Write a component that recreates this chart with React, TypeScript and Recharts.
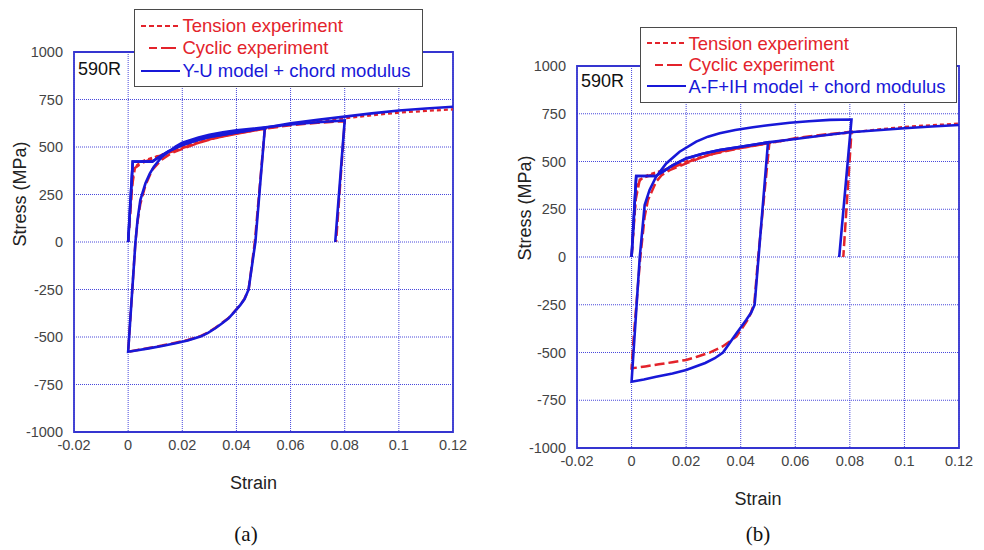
import { CartesianGrid, Legend, Line, LineChart, ReferenceArea, XAxis, YAxis } from "recharts"

type Pt = [number, number] // [strain, stress MPa]

const strainTicks = [-0.02, 0, 0.02, 0.04, 0.06, 0.08, 0.1, 0.12]
const stressTicks = [-1000, -750, -500, -250, 0, 250, 500, 750, 1000]

// red dotted, same test in both panels
const tensionExperiment: Pt[] = [
  [0, 0], [0.0012, 250], [0.002, 379], [0.0033, 405], [0.005, 423], [0.0075, 437], [0.0103, 449], [0.015, 472],
  [0.02, 500], [0.026, 526], [0.033, 552], [0.04, 572], [0.05, 595], [0.06, 620], [0.07, 637], [0.08, 651],
  [0.09, 667], [0.1, 681], [0.11, 690], [0.12, 698],
]

// panel (a)
const cyclicExperimentA: Pt[] = [
  [0, 0], [0.0015, 300], [0.0025, 390], [0.005, 415], [0.01, 445], [0.015, 470], [0.02, 495], [0.03, 540],
  [0.04, 570], [0.0505, 597], [0.0468, 0], [0.0445, -250], [0.043, -298], [0.0414, -332], [0.039, -370],
  [0.0371, -400], [0.0345, -428], [0.0322, -452], [0.0295, -476], [0.0267, -496], [0.022, -516],
  [0.0175, -530], [0.0125, -545], [0.0076, -558], [0.0035, -568], [0, -578], [0.0027, 0], [0.0035, 110],
  [0.0045, 200], [0.0064, 300], [0.0089, 380], [0.0125, 435], [0.016, 468], [0.02, 490], [0.026, 522],
  [0.033, 550], [0.04, 570], [0.05, 595], [0.06, 615], [0.07, 627], [0.08, 636], [0.0768, 0],
]
const tensionModelA: Pt[] = [
  [0, 0], [0.0017, 423], [0.0089, 423], [0.0113, 446], [0.015, 478], [0.02, 510], [0.026, 538], [0.03, 553],
  [0.04, 577], [0.05, 600], [0.06, 625], [0.07, 643], [0.08, 660], [0.09, 677], [0.1, 692], [0.11, 703],
  [0.12, 712],
]
const cyclicModelA: Pt[] = [
  [0, 0], [0.0017, 423], [0.0089, 423], [0.0113, 446], [0.015, 478], [0.02, 510], [0.026, 538], [0.03, 553],
  [0.04, 577], [0.0505, 600], [0.047, 0], [0.0445, -250], [0.043, -300], [0.0414, -332], [0.039, -372],
  [0.0371, -402], [0.0345, -430], [0.0322, -454], [0.0295, -478], [0.0267, -498], [0.022, -518],
  [0.0175, -533], [0.0125, -547], [0.0076, -560], [0.0035, -570], [0, -578], [0.0027, 0], [0.0035, 120],
  [0.0045, 221], [0.0064, 309], [0.008, 360], [0.0095, 396], [0.0125, 449], [0.0175, 502], [0.02, 522],
  [0.026, 550], [0.03, 565], [0.035, 578], [0.04, 588], [0.0507, 604], [0.06, 618], [0.07, 630],
  [0.08, 640], [0.0765, 0],
]

// panel (b)
const cyclicExperimentB: Pt[] = [
  [0, 0], [0.0015, 300], [0.003, 405], [0.005, 418], [0.01, 445], [0.015, 470], [0.02, 495], [0.03, 540],
  [0.04, 570], [0.0505, 597], [0.0464, 0], [0.045, -243], [0.043, -320], [0.0384, -417], [0.0335, -467],
  [0.0286, -501], [0.024, -522], [0.02, -539], [0.015, -551], [0.01, -562], [0.005, -573], [0, -583],
  [0.0008, -417], [0.0032, 0], [0.0048, 211], [0.006, 298], [0.009, 394], [0.011, 428], [0.014, 455],
  [0.02, 490], [0.026, 523], [0.0323, 551], [0.04, 572], [0.05, 595], [0.06, 622], [0.07, 640],
  [0.0806, 656], [0.0776, 0],
]
const tensionModelB: Pt[] = [
  [0, 0], [0.0017, 424], [0.0088, 424], [0.0115, 447], [0.015, 480], [0.02, 516], [0.026, 541], [0.0323, 560],
  [0.04, 577], [0.05, 600], [0.06, 618], [0.07, 636], [0.08, 653], [0.09, 664], [0.1, 674], [0.11, 683],
  [0.12, 691],
]
const cyclicModelB: Pt[] = [
  [0, 0], [0.0017, 424], [0.0088, 424], [0.0115, 447], [0.015, 480], [0.02, 516], [0.026, 541], [0.0323, 560],
  [0.04, 577], [0.05, 600], [0.0451, -250], [0.0438, -292], [0.042, -330], [0.0384, -400], [0.0335, -500],
  [0.0305, -530], [0.027, -555], [0.02, -592], [0.015, -610], [0.009, -627], [0.0045, -641], [0, -653],
  [0.003, 0], [0.0048, 272], [0.0066, 351], [0.009, 420], [0.0127, 490], [0.0176, 551], [0.0237, 604],
  [0.028, 630], [0.0323, 648], [0.038, 665], [0.0445, 679], [0.05, 690], [0.058, 703], [0.065, 711],
  [0.0727, 718], [0.0806, 720], [0.0761, 0],
]

const RED = "#e3232b"
const BLUE = "#1818d8"
const GRID = "#4848dc"
const FRAME = "#3535d0"
const FONT = '"Liberation Sans", Arial, sans-serif'

const toRows = (pts: Pt[]) => pts.map(([strain, stress]) => ({ strain, stress }))

function LegendBox({ modelName, rowHeight }: { modelName: string; rowHeight: number }) {
  const rows = [
    { name: "Tension experiment", color: RED, dash: "5 3", x1: 0, x2: 39 },
    { name: "Cyclic experiment", color: RED, dash: "8 4 15 20", x1: 8, x2: 39 },
    { name: modelName, color: BLUE, dash: undefined, x1: 0, x2: 39 },
  ]
  return (
    <div
      style={{
        boxSizing: "border-box",
        width: "100%",
        height: "100%",
        border: "1.5px solid #4a4a4a",
        background: "#fff",
        paddingTop: 4.5,
        paddingLeft: 5.5,
        fontFamily: FONT,
        fontSize: 18.5,
        lineHeight: `${rowHeight}px`,
      }}
    >
      {rows.map((r) => (
        <div key={r.name} style={{ display: "flex", alignItems: "center", color: r.color, whiteSpace: "nowrap" }}>
          <svg width={39} height={10} style={{ marginRight: 3, flex: "none" }}>
            <line x1={r.x1} y1={5} x2={r.x2} y2={5} stroke={r.color} strokeWidth={2.2} strokeDasharray={r.dash} />
          </svg>
          <span>{r.name}</span>
        </div>
      ))}
    </div>
  )
}

const YTitle = ({ viewBox, dx, shift }: any) => {
  const cx = viewBox.x + dx
  const cy = viewBox.y + viewBox.height / 2 + shift
  return (
    <text
      x={cx}
      y={cy}
      transform={`rotate(-90, ${cx}, ${cy})`}
      textAnchor="middle"
      dominantBaseline="central"
      fontFamily={FONT}
      fontSize={18}
      fill="#222"
    >
      Stress (MPa)
    </text>
  )
}

const XTitle = ({ viewBox }: any) => (
  <text
    x={viewBox.x + viewBox.width / 2 - 10}
    y={viewBox.y + viewBox.height + 26.5}
    textAnchor="middle"
    fontFamily={FONT}
    fontSize={18}
    fill="#222"
  >
    Strain
  </text>
)

interface PanelProps {
  left: number
  width: number
  margin: { top: number; right: number; bottom: number; left: number }
  titleDx: number
  titleShift: number
  modelName: string
  rowHeight: number
  legendBox: { left: number; top: number; width: number; height: number }
  tagPos: { left: number; top: number }
  caption: string
  captionX: number
  cyclicExperiment: Pt[]
  tensionModel: Pt[]
  cyclicModel: Pt[]
}

function Panel(p: PanelProps) {
  const tick = { fontFamily: FONT, fontSize: 14.5, fill: "#444" }
  return (
    <div style={{ position: "absolute", left: p.left, top: 0, width: p.width, height: 550 }}>
      <LineChart width={p.width} height={550} margin={p.margin}>
        <CartesianGrid stroke={GRID} strokeDasharray="1 1" />
        <XAxis
          type="number"
          dataKey="strain"
          domain={[-0.02, 0.12]}
          ticks={strainTicks}
          interval={0}
          allowDataOverflow
          axisLine={false}
          tickLine={false}
          height={30}
          tick={tick}
          label={<XTitle />}
        />
        <YAxis
          type="number"
          domain={[-1000, 1000]}
          ticks={stressTicks}
          interval={0}
          allowDataOverflow
          axisLine={false}
          tickLine={false}
          tickSize={6}
          tickMargin={5}
          width={60}
          tick={tick}
          label={<YTitle dx={p.titleDx} shift={p.titleShift} />}
        />
        <ReferenceArea x1={-0.02} x2={0.12} y1={-1000} y2={1000} fill="none" stroke={FRAME} strokeWidth={1.8} />
        <Legend
          layout="horizontal"
          verticalAlign="middle"
          align="center"
          wrapperStyle={{ ...p.legendBox }}
          content={() => <LegendBox modelName={p.modelName} rowHeight={p.rowHeight} />}
        />
        <Line
          data={toRows(tensionExperiment)}
          dataKey="stress"
          name="Tension experiment"
          type="linear"
          stroke={RED}
          strokeWidth={2.3}
          strokeDasharray="4 3"
          dot={false}
          activeDot={false}
          isAnimationActive={false}
        />
        <Line
          data={toRows(p.cyclicExperiment)}
          dataKey="stress"
          name="Cyclic experiment"
          type="linear"
          stroke={RED}
          strokeWidth={2.5}
          strokeDasharray="10 4"
          dot={false}
          activeDot={false}
          isAnimationActive={false}
        />
        <Line
          data={toRows(p.tensionModel)}
          dataKey="stress"
          name={p.modelName}
          type="linear"
          stroke={BLUE}
          strokeWidth={2.6}
          dot={false}
          activeDot={false}
          isAnimationActive={false}
        />
        <Line
          data={toRows(p.cyclicModel)}
          dataKey="stress"
          name={`${p.modelName} (cyclic)`}
          type="linear"
          stroke={BLUE}
          strokeWidth={2.6}
          dot={false}
          activeDot={false}
          isAnimationActive={false}
        />
      </LineChart>
      <div
        style={{
          position: "absolute",
          left: p.tagPos.left,
          top: p.tagPos.top,
          fontFamily: FONT,
          fontSize: 18,
          lineHeight: "18px",
          color: "#111",
        }}
      >
        590R
      </div>
      <div
        style={{
          position: "absolute",
          left: p.captionX - 30,
          width: 60,
          top: 524,
          textAlign: "center",
          fontFamily: '"Liberation Serif", "Times New Roman", serif',
          fontSize: 21,
          lineHeight: "21px",
          color: "#111",
        }}
      >
        {p.caption}
      </div>
    </div>
  )
}

export default function App() {
  return (
    <div style={{ position: "absolute", left: 0, top: 0, width: 984, height: 550, background: "#fff" }}>
      <Panel
        left={0}
        width={490}
        margin={{ top: 52, right: 37, bottom: 88, left: 14 }}
        titleDx={6}
        titleShift={-48}
        modelName="Y-U model + chord modulus"
        rowHeight={22.5}
        legendBox={{ left: 134, top: 9, width: 289, height: 78 }}
        tagPos={{ left: 78, top: 60 }}
        caption="(a)"
        captionX={246}
        cyclicExperiment={cyclicExperimentA}
        tensionModel={tensionModelA}
        cyclicModel={cyclicModelA}
      />
      <Panel
        left={490}
        width={494}
        margin={{ top: 66, right: 25, bottom: 72, left: 27 }}
        titleDx={8}
        titleShift={-49}
        modelName="A-F+IH model + chord modulus"
        rowHeight={21.5}
        legendBox={{ left: 150, top: 27, width: 317, height: 76 }}
        tagPos={{ left: 91, top: 72 }}
        caption="(b)"
        captionX={268}
        cyclicExperiment={cyclicExperimentB}
        tensionModel={tensionModelB}
        cyclicModel={cyclicModelB}
      />
    </div>
  )
}
